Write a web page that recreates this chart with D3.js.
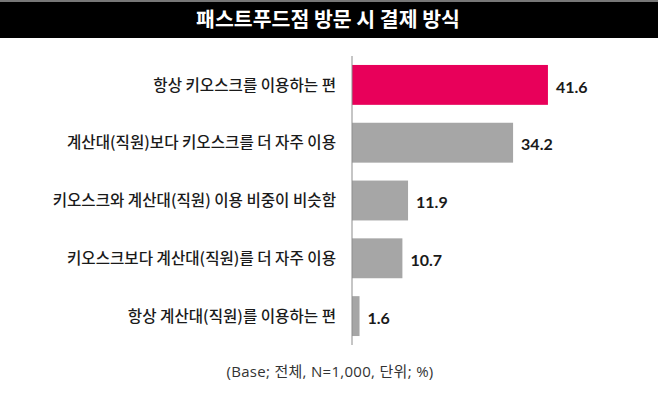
<!DOCTYPE html>
<html>
<head>
<meta charset="utf-8">
<script src="https://cdn.jsdelivr.net/npm/d3@7"></script>
<style>
  body { margin: 0; background: #fff; }
  svg { display: block; }
  .title { font-family: "Noto Sans CJK KR", sans-serif; font-weight: 700; font-size: 20.5px; fill: #fff; }
  .cat { font-family: "Noto Sans CJK KR", sans-serif; font-weight: 500; font-size: 15.6px; fill: #1a1a1a; }
  .val { font-family: Lato, sans-serif; font-weight: 700; font-size: 16px; fill: #1a1a1a; }
  .note { font-family: "Open Sans", "Noto Sans CJK KR", sans-serif; font-size: 15px; fill: #333; letter-spacing: 0.3px; }
</style>
</head>
<body>
<div id="chart"></div>
<script>
const W = 658, H = 394;

const titleText = '패스트푸드점 방문 시 결제 방식';
const categories = [
  '항상 키오스크를 이용하는 편',
  '계산대(직원)보다 키오스크를 더 자주 이용',
  '키오스크와 계산대(직원) 이용 비중이 비슷함',
  '키오스크보다 계산대(직원)를 더 자주 이용',
  '항상 계산대(직원)를 이용하는 편'
];
const values = [41.6, 34.2, 11.9, 10.7, 1.6];
const noteText = '(Base; 전체, N=1,000, 단위; %)';

const colors = { HIGHLIGHT: '#e8005a', DEFAULT: '#a6a6a6', AXIS: '#8c8c8c' };

const svg = d3.select('#chart').append('svg')
  .attr('width', W)
  .attr('height', H);

// title bar
svg.append('rect')
  .attr('x', 0).attr('y', 0)
  .attr('width', W).attr('height', 2)
  .attr('fill', '#777');
svg.append('rect')
  .attr('x', 0).attr('y', 2)
  .attr('width', W).attr('height', 36)
  .attr('fill', '#000');
svg.append('text')
  .attr('class', 'title')
  .attr('x', 328)
  .attr('y', 20)
  .attr('dy', '0.36em')
  .attr('text-anchor', 'middle')
  .text(titleText);

const x = d3.scaleLinear().domain([0, 50]).range([352, 352 + 50 * 4.71]);
const y = d3.scaleBand()
  .domain(categories)
  .range([56, 345])
  .paddingInner(0.31)
  .paddingOuter(0.155);

const data = categories.map((c, i) => ({ c, v: values[i], i }));

const gB = svg.append('g');
const gL = svg.append('g');

data.forEach(d => {
  gB.append('rect')
    .attr('x', x(0))
    .attr('y', y(d.c))
    .attr('width', x(d.v) - x(0))
    .attr('height', y.bandwidth())
    .attr('fill', d.i === 0 ? colors.HIGHLIGHT : colors.DEFAULT);

  gL.append('text')
    .attr('class', 'val')
    .attr('x', x(d.v) + 8)
    .attr('y', y(d.c) + y.bandwidth() / 2 + 2)
    .attr('dy', '0.35em')
    .text(d.v.toFixed(1));

  gL.append('text')
    .attr('class', 'cat')
    .attr('x', 336)
    .attr('y', y(d.c) + y.bandwidth() / 2)
    .attr('dy', '0.36em')
    .attr('text-anchor', 'end')
    .text(d.c);
});

// axis line
svg.append('line')
  .attr('x1', x(0)).attr('x2', x(0))
  .attr('y1', y.range()[0]).attr('y2', y.range()[1])
  .attr('stroke', colors.AXIS)
  .attr('stroke-width', 1);

svg.append('text')
  .attr('class', 'note')
  .attr('x', 330)
  .attr('y', 372)
  .attr('dy', '0.36em')
  .attr('text-anchor', 'middle')
  .text(noteText);
</script>
</body>
</html>
